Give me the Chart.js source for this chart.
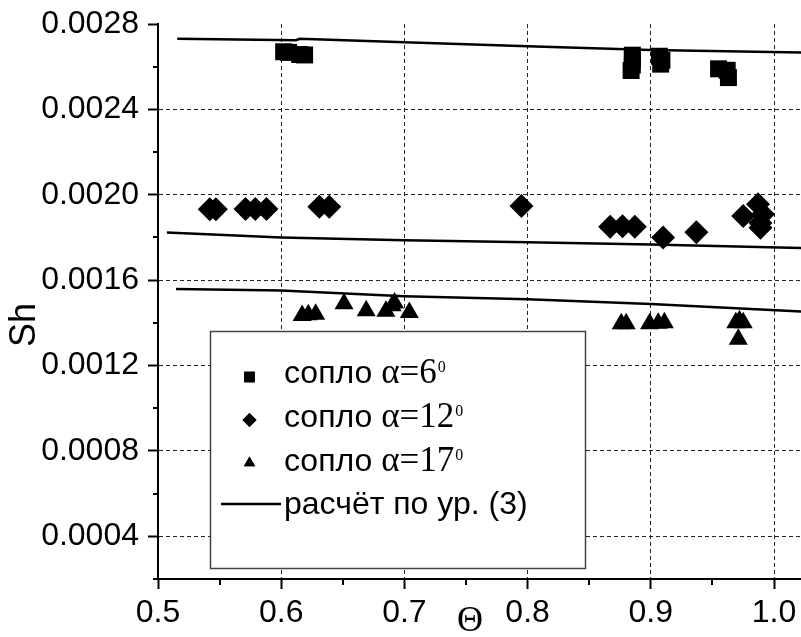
<!DOCTYPE html>
<html><head><meta charset="utf-8">
<script src="https://cdn.jsdelivr.net/npm/chart.js@4/dist/chart.umd.min.js"></script>
<style>html,body{margin:0;padding:0;background:#fff;}#wrap{width:801px;height:637px;}</style>
</head><body><div id="wrap"><canvas id="c" width="801" height="637"></canvas></div>
<script>
// ---- data ----
const xTicks = [0.5, 0.55, 0.6, 0.65, 0.7, 0.75, 0.8, 0.85, 0.9, 0.95, 1.0];
const yTicks = [0.0002, 0.0004, 0.0006, 0.0008, 0.0010, 0.0012, 0.0014, 0.0016, 0.0018, 0.0020, 0.0022, 0.0024, 0.0026, 0.0028];
const seriesNames = ['сопло α=6⁰', 'сопло α=12⁰', 'сопло α=17⁰', 'расчёт по ур. (3)'];
const legendMain = ['сопло ', 'сопло ', 'сопло ', 'расчёт по ур. (3)'];
const legendGreek = ['α=6', 'α=12', 'α=17', ''];
const legendSup = ['0', '0', '0', ''];
const xTitle = 'Θ';
const yTitle = 'Sh';

const a6X = [0.602, 0.606, 0.615, 0.619, 0.885, 0.885, 0.885, 0.884, 0.907, 0.909, 0.908, 0.955, 0.962, 0.963];
const a6Y = [0.002670, 0.002667, 0.002657, 0.002655, 0.002654, 0.002632, 0.002608, 0.002582, 0.002649, 0.002630, 0.002612, 0.002590, 0.002583, 0.002549];

const a12X = [0.542, 0.547, 0.571, 0.579, 0.588, 0.631, 0.639, 0.795, 0.867, 0.877, 0.887, 0.910, 0.937, 0.975, 0.987, 0.991, 0.989, 0.989];
const a12Y = [0.001932, 0.001932, 0.001933, 0.001933, 0.001933, 0.001944, 0.001944, 0.001947, 0.001850, 0.001852, 0.001850, 0.001800, 0.001824, 0.001900, 0.001956, 0.001909, 0.001845, 0.001868];

const a17X = [0.617, 0.622, 0.628, 0.651, 0.669, 0.685, 0.690, 0.692, 0.704, 0.876, 0.880, 0.899, 0.906, 0.911, 0.969, 0.972, 0.975, 0.971];
const a17Y = [0.001435, 0.001438, 0.001440, 0.001490, 0.001457, 0.001454, 0.001480, 0.001493, 0.001449, 0.001396, 0.001396, 0.001396, 0.001398, 0.001400, 0.001400, 0.001410, 0.001400, 0.001323];

const calcTopX = [0.5156, 0.612, 0.615, 0.7, 0.8, 0.9, 1.022];
const calcTopY = [0.002731, 0.002724, 0.002731, 0.002714, 0.002696, 0.002678, 0.002666];
const calcMidX = [0.5072, 0.6, 0.7, 0.8, 0.9, 1.022];
const calcMidY = [0.001823, 0.001800, 0.001787, 0.001777, 0.001767, 0.001751];
const calcLowX = [0.5146, 0.6, 0.7, 0.8, 0.9, 1.022];
const calcLowY = [0.001558, 0.001552, 0.001525, 0.001510, 0.001488, 0.001453];

const pts = (xs, ys) => xs.map((x, i) => ({x: x, y: ys[i]}));
const isMajorX = v => Math.abs(v * 10 - Math.round(v * 10)) < 1e-6;
const isMajorY = v => Math.round(v / 0.0002) % 2 === 0;

const SANS = "'Liberation Sans', Arial, sans-serif";
const SERIF = "'Liberation Serif', 'Times New Roman', serif";

const markerStyles = ['rect', 'rectRot', 'triangle'];

const extras = {
  id: 'extras',
  afterDatasetsDraw(chart) {
    const ctx = chart.ctx;
    const xs = chart.scales.x, ys = chart.scales.y;
    const ca = chart.chartArea;
    ctx.save();
    // minor ticks
    ctx.strokeStyle = '#000'; ctx.lineWidth = 2;
    ctx.beginPath();
    xTicks.filter(v => !isMajorX(v)).forEach(v => {
      const px = Math.round(xs.getPixelForValue(v));
      ctx.moveTo(px, ca.bottom); ctx.lineTo(px, ca.bottom + 6);
    });
    yTicks.filter(v => !isMajorY(v)).forEach(v => {
      const py = Math.round(ys.getPixelForValue(v));
      ctx.moveTo(ca.left, py); ctx.lineTo(ca.left - 5, py);
    });
    ctx.moveTo(ca.left - 3, ca.bottom); ctx.lineTo(ca.left, ca.bottom);
    ctx.stroke();
    // axis titles
    ctx.fillStyle = '#000';
    ctx.textAlign = 'center'; ctx.textBaseline = 'middle';
    ctx.save();
    ctx.translate(25, 325); ctx.rotate(-Math.PI / 2);
    ctx.font = '36px ' + SANS;
    ctx.fillText(yTitle, 0, 0);
    ctx.restore();
    ctx.font = '36px ' + SERIF;
    ctx.fillText(xTitle, 470, 622);
    // legend box
    const bx = 210, by = 331, bw = 375, bh = 237;
    ctx.fillStyle = '#fff';
    ctx.fillRect(bx, by, bw, bh);
    ctx.strokeStyle = '#444'; ctx.lineWidth = 1.5;
    ctx.strokeRect(bx + 0.5, by + 0.5, bw, bh);
    const rowY = [383, 427, 471, 514];
    const markY = [377, 420, 463];
    const mr = [7.5, 7, 6.5];
    ctx.fillStyle = '#000';
    for (let i = 0; i < 3; i++) {
      Chart.helpers.drawPoint(ctx, {pointStyle: markerStyles[i], radius: mr[i], rotation: 0, borderWidth: 0}, 249.5, markY[i]);
      ctx.fill();
    }
    ctx.strokeStyle = '#000'; ctx.lineWidth = 2.5;
    ctx.beginPath(); ctx.moveTo(221, 504); ctx.lineTo(281, 504); ctx.stroke();
    ctx.textAlign = 'left'; ctx.textBaseline = 'alphabetic';
    for (let i = 0; i < 4; i++) {
      let x = 284;
      ctx.font = '32px ' + SANS;
      ctx.fillText(legendMain[i], x, rowY[i]);
      x += ctx.measureText(legendMain[i]).width;
      if (legendGreek[i]) {
        ctx.font = '35px ' + SERIF;
        ctx.fillText(legendGreek[i], x, rowY[i]);
        x += ctx.measureText(legendGreek[i]).width + 1;
        ctx.font = '16px ' + SERIF;
        ctx.fillText(legendSup[i], x, rowY[i] - 11);
      }
    }
    ctx.restore();
  }
};

const scatterDs = (label, data, style, r) => ({
  label: label, data: data, showLine: false, pointStyle: style, pointRadius: r, pointHoverRadius: r,
  backgroundColor: '#000', borderColor: '#000', pointBorderWidth: 0
});
const lineDs = (label, data) => ({
  label: label, data: data, showLine: true, pointRadius: 0, borderColor: '#000', borderWidth: 2.5,
  backgroundColor: '#000', tension: 0, fill: false
});

new Chart(document.getElementById('c'), {
  type: 'scatter',
  data: {
    datasets: [
      scatterDs(seriesNames[0], pts(a6X, a6Y), 'rect', 12),
      scatterDs(seriesNames[1], pts(a12X, a12Y), 'rectRot', 12),
      scatterDs(seriesNames[2], pts(a17X, a17Y), 'triangle', 11),
      lineDs(seriesNames[3], pts(calcTopX, calcTopY)),
      lineDs(seriesNames[3], pts(calcMidX, calcMidY)),
      lineDs(seriesNames[3], pts(calcLowX, calcLowY))
    ]
  },
  options: {
    responsive: false, animation: false, devicePixelRatio: 1,
    layout: {autoPadding: false, padding: {top: 24, left: 0, right: 0, bottom: 0}},
    plugins: {legend: {display: false}, tooltip: {enabled: false}},
    scales: {
      x: {
        type: 'linear', position: 'bottom', min: 0.5, max: 1.0219,
        afterBuildTicks: s => { s.ticks = xTicks.map(v => ({value: v})); },
        afterFit: s => { s.height = 58; s.paddingLeft = 0; s.paddingRight = 0; },
        ticks: {
          autoSkip: false, maxRotation: 0, color: '#000', padding: 5,
          font: {family: SANS, size: 32},
          callback: v => isMajorX(v) ? v.toFixed(1) : ''
        },
        grid: {
          color: c => (c.tick && isMajorX(c.tick.value) && c.tick.value > 0.51) ? '#222' : 'rgba(0,0,0,0)',
          lineWidth: 1, drawTicks: true, tickLength: 10, tickWidth: 2,
          tickColor: c => (c.tick && isMajorX(c.tick.value)) ? '#000' : 'rgba(0,0,0,0)'
        },
        border: {display: true, color: '#000', width: 2, dash: [4, 3]}
      },
      y: {
        type: 'linear', position: 'left', min: 0.0002, max: 0.0028,
        afterBuildTicks: s => { s.ticks = yTicks.map(v => ({value: v})); },
        afterFit: s => { s.width = 158; s.paddingTop = 0; s.paddingBottom = 0; },
        ticks: {
          autoSkip: false, color: '#000', padding: 9,
          font: {family: SANS, size: 32},
          callback: v => isMajorY(v) ? v.toFixed(4) : ''
        },
        grid: {
          color: c => (c.tick && isMajorY(c.tick.value) && c.tick.value < 0.00279) ? '#222' : 'rgba(0,0,0,0)',
          lineWidth: 1, drawTicks: true, tickLength: 10, tickWidth: 2,
          tickColor: c => (c.tick && isMajorY(c.tick.value)) ? '#000' : 'rgba(0,0,0,0)'
        },
        border: {display: true, color: '#000', width: 2, dash: [4, 3]}
      }
    }
  },
  plugins: [extras]
});
</script></body></html>
